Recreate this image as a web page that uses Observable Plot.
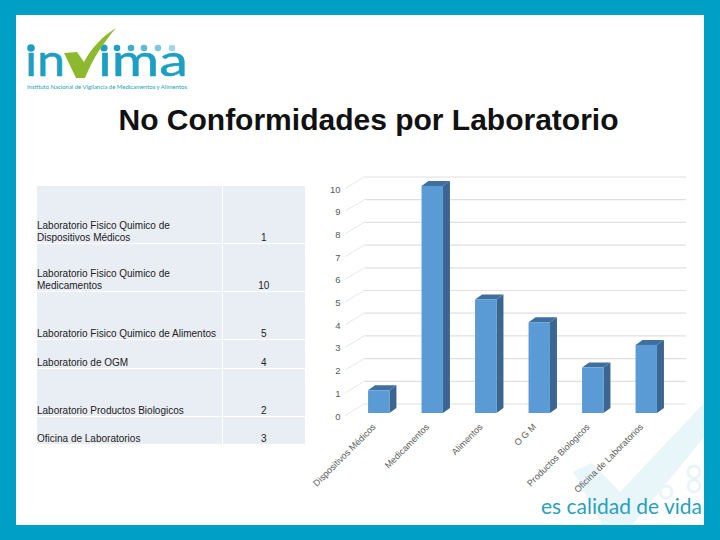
<!DOCTYPE html>
<html lang="es"><head><meta charset="utf-8">
<script src="https://cdn.jsdelivr.net/npm/d3@7"></script>
<script src="https://cdn.jsdelivr.net/npm/@observablehq/plot@0.6"></script>
<style>
html,body{margin:0;padding:0;background:#00A0C6;width:720px;height:540px;overflow:hidden}
#page{position:absolute;left:16px;top:15px;width:688px;height:510px;background:#fff}
#art{position:absolute;left:0;top:0}
#title{position:absolute;left:0;top:103px;width:737px;text-align:center;font:bold 30px "Liberation Sans",Arial,sans-serif;color:#111;white-space:nowrap;line-height:34px}
#tbl{position:absolute;left:37px;top:186px;width:268px;height:258px;border-collapse:collapse;table-layout:fixed;font:10px/12px "Liberation Sans",Arial,sans-serif;color:#222}
#tbl td{background:#E9EDF4;border-bottom:1px solid #fff;padding:0;vertical-align:bottom}
#tbl td span{position:relative;top:1px;display:block}
#tbl td:last-child{border-left:1px solid #fff;text-align:center}
#tbl tr:last-child td{border-bottom:none}
#chart{position:absolute;left:310px;top:170px}
</style></head><body>
<div id="page"></div>
<svg id="art" width="720" height="540" viewBox="0 0 720 540">
  <path fill="#E8F5F9" d="M573 472 L592 463 L620 492 L704 403 L704 437 L632 525 L603 525 Z"/>
  <g fill="none" stroke="#E8F5F9" stroke-width="3">
    <circle cx="694" cy="472" r="6"/><circle cx="694" cy="486" r="6"/><circle cx="666" cy="492" r="6"/>
  </g>
  <g fill="#1C9FC2" font-family="Lato">
    <text x="25" y="76" font-size="44" stroke="#1C9FC2" stroke-width=".5" textLength="40" lengthAdjust="spacingAndGlyphs">ın</text>
    <text x="98" y="76" font-size="44" stroke="#1C9FC2" stroke-width=".5" textLength="90" lengthAdjust="spacingAndGlyphs">ıma</text>
    <circle cx="31" cy="48" r="3.8"/><circle cx="104" cy="48" r="3.6"/>
    <circle cx="117" cy="48" r="3.3"/><circle cx="131" cy="48" r="3.3" fill="#3FAECB"/>
    <circle cx="144" cy="48" r="3.3" fill="#5FBAD3"/><circle cx="158" cy="48" r="3.3" fill="#80C7DC"/>
    <circle cx="172" cy="48" r="3.3" fill="#A3D5E6"/>
  </g>
  <path d="M64 53 L77 52 L84 62 C92 47 103 36 116 28 C104 42 93 58 85 78 L76 78 Z" fill="#8DB92E"/>
  <text x="27" y="89" font-family="Lato" font-size="6.3" fill="#1C9FC2" textLength="160" lengthAdjust="spacingAndGlyphs">Instituto Nacional de Vigilancia de Medicamentos y Alimentos</text>
  <text x="541" y="514" font-family="Lato" font-size="20.5" fill="#2A9FBE" textLength="161" lengthAdjust="spacingAndGlyphs">es calidad de vida</text>
</svg>
<div id="title">No Conformidades por Laboratorio</div>
<table id="tbl"><colgroup><col style="width:185px"><col style="width:83px"></colgroup><tbody></tbody></table>
<div id="chart"></div>
<script>
const tableLabels = ["Laboratorio Fisico Quimico de Dispositivos Médicos","Laboratorio Fisico Quimico de Medicamentos","Laboratorio Fisico Quimico de Alimentos","Laboratorio de OGM","Laboratorio Productos Biologicos","Oficina de Laboratorios"];
const categories = ["Dispositivos Médicos","Medicamentos","Alimentos","O G M","Productos Biologicos","Oficina de Laboratorios"];
const values = [1,10,5,4,2,3];
const rowHeights = [57,48,48,29,48,28];
const yTicks = [0,1,2,3,4,5,6,7,8,9,10];

const tb = d3.select("#tbl tbody");
tableLabels.forEach((l,i)=>{
  const tr = tb.append("tr").style("height",rowHeights[i]+"px");
  tr.append("td").append("span").style("padding-right","1px").text(l);
  tr.append("td").append("span").text(values[i]);
});

const rows = categories.map((c,i)=>({c,v:values[i]}));
const depthX = 7, depthY = 5, wallX = 13, wallY = -9.5;

function walls(index, {y}, _v, dims){
  const g = d3.create("svg:g");
  const left = dims.marginLeft;
  for (const t of yTicks) {
    g.append("line").attr("x1",left-7).attr("y1",y(t)+2.5).attr("x2",left+wallX).attr("y2",y(t)+wallY)
      .attr("stroke","#E8E8E8").attr("stroke-width",1);
  }
  return g.node();
}
function faces(index, {x,y}){
  const g = d3.create("svg:g");
  const w = x.bandwidth();
  for (const d of rows){
    const l = x(d.c), r = l+w, t = y(d.v), b = y(0);
    g.append("polygon").attr("fill","#3A6691")
      .attr("points",[[r,t],[r+depthX,t-depthY],[r+depthX,b-depthY],[r,b]].join(" "));
    g.append("polygon").attr("fill","#3F6F9F")
      .attr("points",[[l,t],[l+depthX,t-depthY],[r+depthX,t-depthY],[r,t]].join(" "));
  }
  return g.node();
}

const chart = Plot.plot({
  width:400, height:340,
  marginLeft:42, marginRight:37, marginTop:16, marginBottom:97,
  style:{background:"transparent",fontFamily:"'Liberation Sans',Arial,sans-serif",fontSize:"9px",color:"#595959"},
  x:{domain:categories,type:"band",paddingInner:0.6,paddingOuter:0.3,align:0.5,round:false,label:null},
  y:{domain:[0,10],label:null},
  marks:[
    Plot.ruleY(yTicks,{stroke:"#E0E0E0",strokeWidth:1.2,dx:wallX,dy:wallY}),
    walls,
    faces,
    Plot.barY(rows,{x:"c",y:"v",fill:"#5B9BD5"}),
    Plot.axisY({ticks:yTicks,tickSize:0,tickPadding:12,dy:3,fontSize:9.5,label:null,fill:"#595959"}),
    Plot.axisX({tickSize:0,tickRotate:-45,tickPadding:12,dx:-5,label:null,fill:"#595959"})
  ]
});
document.getElementById("chart").append(chart);
</script>
</body></html>
